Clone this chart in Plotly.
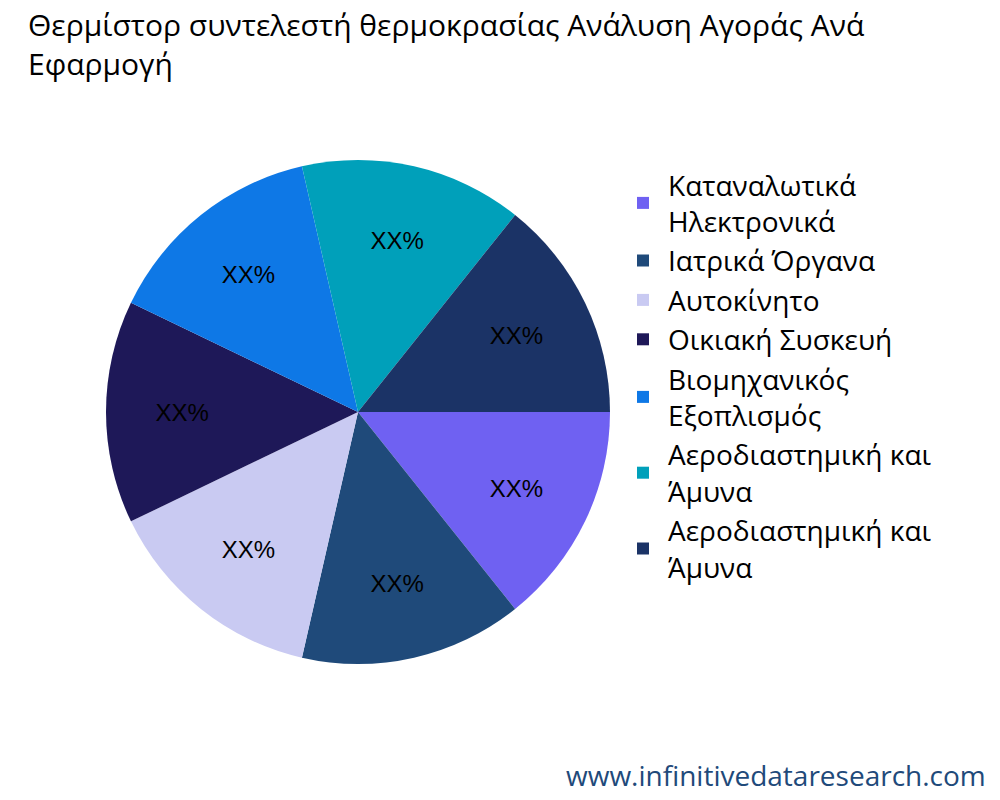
import plotly.graph_objects as go

labels = ["Καταναλωτικά<br>Ηλεκτρονικά", "Ιατρικά Όργανα", "Αυτοκίνητο", "Οικιακή Συσκευή",
          "Βιομηχανικός<br>Εξοπλισμός", "Αεροδιαστημική και<br>Άμυνα", "Αεροδιαστημική και<br>Άμυνα "]
values = [1, 1, 1, 1, 1, 1, 1]
colors = ["#6F61F2", "#1F4A7A", "#C9CAF2", "#1E1858", "#0E78E6", "#00A0BA", "#1B3366"]

fig = go.Figure(go.Pie(
    labels=labels, values=values, sort=False, direction="clockwise", rotation=90,
    marker=dict(colors=colors), texttemplate="XX%", textposition="inside",
    insidetextfont=dict(color="black", size=24, family="Liberation Sans"),
    domain=dict(x=[0.093, 0.607], y=[0.18, 0.81]), hoverinfo="skip"))
fig.update_layout(
    width=1000, height=800, margin=dict(l=0, r=0, t=0, b=0),
    paper_bgcolor="white", font=dict(family="Open Sans"),
    title=dict(text="Θερμίστορ συντελεστή θερμοκρασίας Ανάλυση Αγοράς Ανά<br>Εφαρμογή",
               x=0.02, xanchor="left", y=0.965, yanchor="top",
               font=dict(size=30, color="black")),
    legend=dict(x=0.61, y=0.81, yanchor="top", font=dict(size=28, color="black"),
                itemwidth=40),
    annotations=[dict(text="www.infinitivedataresearch.com", x=0.98, y=0.015,
                      xref="paper", yref="paper", xanchor="right", yanchor="bottom",
                      showarrow=False, font=dict(size=28, color="#1F4A7A"))])
fig.write_html("out.html")
